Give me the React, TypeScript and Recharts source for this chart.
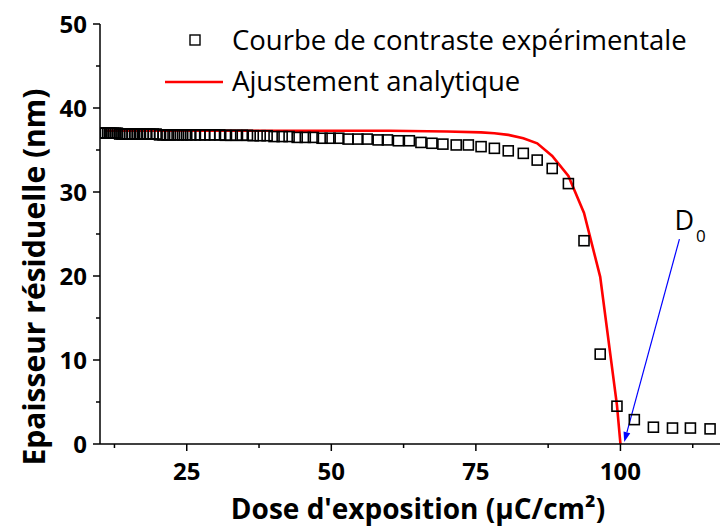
import { ComposedChart, Scatter, Line, XAxis, YAxis, ReferenceLine } from "recharts";

// experimental contrast curve (dose in µC/cm², residual thickness in nm)
const doseExp = [
  10.0, 10.3, 10.6, 10.9, 11.3, 11.6, 11.9, 12.3, 12.7, 13.0, 13.4, 13.8, 14.3, 14.7, 15.1,
  15.6, 16.0, 16.5, 17.0, 17.5, 18.1, 18.6, 19.2, 19.7, 20.3, 20.9, 21.6, 22.2, 22.9, 23.6,
  24.3, 25.0, 25.7, 26.5, 27.3, 28.1, 29.0, 29.8, 30.7, 31.7, 32.6, 33.6, 34.6, 35.5,
  36.5, 37.7, 38.9, 40.1, 41.5, 42.7, 44.1, 45.5, 46.9, 48.4, 49.8, 51.3, 52.9, 54.6, 56.2,
  58.1, 59.7, 61.6, 63.5, 65.5, 67.4, 69.3, 71.6, 73.7, 75.9, 78.2, 80.6, 83.2, 85.6, 88.2,
  91.0, 93.7, 96.5, 99.4, 102.4, 105.7, 109.0, 112.1, 115.5, 118.5,
];
const thicknessExp = [
  37.0, 37.0, 37.0, 37.0, 37.0, 37.0, 37.0, 37.0, 37.0, 37.0, 36.9, 36.9, 36.9, 36.9, 36.9,
  36.9, 36.9, 36.9, 36.9, 36.9, 36.9, 36.9, 36.9, 36.9, 36.8, 36.8, 36.8, 36.8, 36.8, 36.8,
  36.8, 36.8, 36.8, 36.8, 36.8, 36.8, 36.8, 36.8, 36.8, 36.75, 36.75, 36.75, 36.75, 36.75,
  36.7, 36.7, 36.7, 36.6, 36.6, 36.6, 36.5, 36.5, 36.5, 36.4, 36.4, 36.4, 36.3, 36.3, 36.3,
  36.2, 36.2, 36.1, 36.1, 35.9, 35.8, 35.7, 35.6, 35.6, 35.4, 35.2, 34.9, 34.6, 33.8, 32.8,
  31.0, 24.2, 10.7, 4.5, 2.9, 2.0, 1.9, 1.9, 1.8, 1.8,
];

// analytical fit
const doseFit = [10.9, 20, 30, 40, 50, 60, 70, 75.9, 78.2, 80.6, 83.2, 85.6, 88.2, 91.0, 93.7, 96.5, 99.4, 100.0];
const thicknessFit = [37.3, 37.3, 37.3, 37.3, 37.3, 37.3, 37.2, 37.1, 37.0, 36.8, 36.4, 35.8, 34.3, 31.9, 27.5, 19.9, 4.6, 0];

const xTicks = [12.5, 25, 37.5, 50, 62.5, 75, 87.5, 100, 112.5];
const yTicks = [0, 5, 10, 15, 20, 25, 30, 35, 40, 45, 50];

const expData = doseExp.map((d, i) => ({ dose: d, thickness: thicknessExp[i] }));
const fitData = doseFit.map((d, i) => ({ dose: d, thickness: thicknessFit[i] }));

const FONT = "'Open Sans', sans-serif";

const XTick = (props: any) => {
  const { x, y, payload } = props;
  const major = payload.value % 25 === 0;
  return (
    <g>
      <line x1={x} y1={y} x2={x} y2={y + (major ? 7 : 4)} stroke="#000" strokeWidth={1.5} />
      {major && (
        <text x={x} y={y + 36} textAnchor="middle" fontFamily={FONT} fontWeight="bold" fontSize={24} fill="#000">
          {payload.value}
        </text>
      )}
    </g>
  );
};

const YTick = (props: any) => {
  const { x, y, payload } = props;
  const major = payload.value % 10 === 0;
  return (
    <g>
      <line x1={x} y1={y} x2={x - (major ? 7 : 4)} y2={y} stroke="#000" strokeWidth={1.5} />
      {major && (
        <text x={x - 13} y={y + 8.5} textAnchor="end" fontFamily={FONT} fontWeight="bold" fontSize={24} fill="#000">
          {payload.value}
        </text>
      )}
    </g>
  );
};

const square = (props: any) => {
  const { cx, cy } = props;
  return <rect x={cx - 5} y={cy - 5} width={10} height={10} fill="none" stroke="#000" strokeWidth={1.6} />;
};

const arrow = (props: any) => {
  const { x1, y1, x2, y2 } = props;
  const dx = x2 - x1;
  const dy = y2 - y1;
  const len = Math.hypot(dx, dy);
  const ux = dx / len;
  const uy = dy / len;
  const bx = x2 - ux * 10;
  const by = y2 - uy * 10;
  const pts = `${x2},${y2} ${bx - uy * 3.5},${by + ux * 3.5} ${bx + uy * 3.5},${by - ux * 3.5}`;
  return (
    <g>
      <line x1={x1} y1={y1} x2={bx} y2={by} stroke="#0000ff" strokeWidth={1.2} />
      <polygon points={pts} fill="#0000ff" />
      <text x={x1 - 5} y={y1 - 9} fontFamily={FONT} fontSize={27} fill="#000">
        D
        <tspan fontSize={17} dx={2} dy={12}>0</tspan>
      </text>
    </g>
  );
};

export default function App() {
  return (
    <div style={{ position: "relative", width: 720, height: 521 }}>
      <ComposedChart width={720} height={521} margin={{ top: 16, right: 0, bottom: 0, left: 0 }}>
        <XAxis
          type="number"
          dataKey="dose"
          domain={[10, 118.6]}
          allowDataOverflow
          ticks={xTicks}
          interval={0}
          tick={<XTick />}
          tickLine={false}
          tickSize={0}
          tickMargin={0}
          height={85}
          axisLine={{ stroke: "#000", strokeWidth: 1.5 }}
          label={{
            content: (p: any) => (
              <text x={p.viewBox.x + 318} y={p.viewBox.y + 75} textAnchor="middle" fontFamily={FONT} fontWeight="bold" fontSize={28} fill="#000">
                Dose d'exposition (µC/cm²)
              </text>
            ),
          }}
        />
        <YAxis
          type="number"
          dataKey="thickness"
          domain={[0, 50]}
          ticks={yTicks}
          interval={0}
          tick={<YTick />}
          tickLine={false}
          tickSize={0}
          tickMargin={0}
          width={92}
          axisLine={{ stroke: "#000", strokeWidth: 1.5 }}
          label={{
            content: (p: any) => (
              <text
                x={37}
                y={p.viewBox.y + 253}
                transform={`rotate(-90 37 ${p.viewBox.y + 253})`}
                textAnchor="middle"
                fontFamily={FONT}
                fontWeight="bold"
                fontSize={30}
                fill="#000"
              >
                Epaisseur résiduelle (nm)
              </text>
            ),
          }}
        />
        <Scatter data={expData} shape={square} isAnimationActive={false} />
        <Line
          data={fitData}
          dataKey="thickness"
          type="linear"
          stroke="#ff0000"
          strokeWidth={2.6}
          dot={false}
          isAnimationActive={false}
        />
        <ReferenceLine
          segment={[{ x: 110.2, y: 24.4 }, { x: 100.66, y: 0.24 }]}
          ifOverflow="visible"
          shape={arrow}
        />
      </ComposedChart>
      <svg width={720} height={521} style={{ position: "absolute", left: 0, top: 0, pointerEvents: "none" }}>
        <rect x={182} y={27} width={10} height={10} fill="none" stroke="#000" strokeWidth={1.4} />
        <text x={224} y={42} fontFamily={FONT} fontSize={27.5} fill="#000">Courbe de contraste expérimentale</text>
        <line x1={157} y1={74} x2={215} y2={74} stroke="#ff0000" strokeWidth={2.6} />
        <text x={224} y={83} fontFamily={FONT} fontSize={27.5} fill="#000">Ajustement analytique</text>
      </svg>
    </div>
  );
}
